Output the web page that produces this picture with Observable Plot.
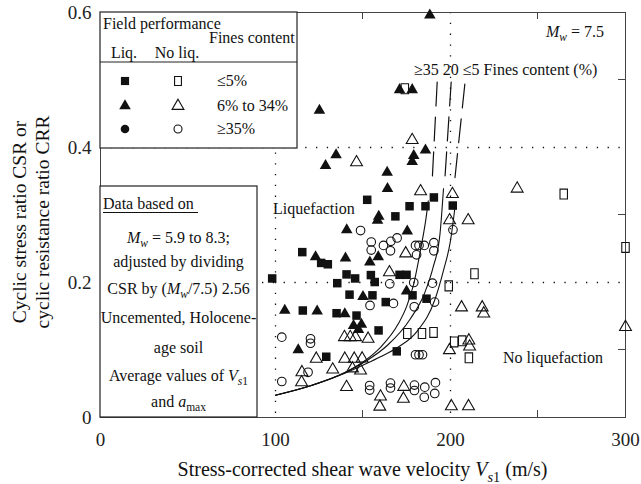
<!DOCTYPE html>
<html>
<head>
<meta charset="utf-8">
<script src="https://cdn.jsdelivr.net/npm/d3@7"></script>
<script src="https://cdn.jsdelivr.net/npm/@observablehq/plot@0.6"></script>
<style>
  html, body { margin: 0; padding: 0; background: #fff; }
  #chart { width: 641px; height: 484px; }
</style>
</head>
<body>
<div id="chart"></div>
<script>
// ---- axis ticks ----
const vs1Ticks = [0, 100, 200, 300];
const crrTicks = [0, 0.2, 0.4, 0.6];
const vs1MinorTicks = [150, 250];
const crrMinorTicks = [0.1, 0.3, 0.5];
const guideVs1 = [100, 200];
const guideCRR = [0.2, 0.4];

// ---- field data [Vs1 (m/s), CSR] ----
const liqSquares = [
  [98.1,0.206],[115.3,0.245],[126.1,0.229],[129.9,0.227],[152.4,0.3225],[176.6,0.313],
  [185.7,0.313],[201.3,0.314],[190.5,0.326],[168.5,0.298],[135.3,0.199],[140.6,0.212],
  [145.5,0.206],[154.5,0.211],[156.7,0.2007],[170.9,0.2114],[174.9,0.2114],[142.3,0.182],
  [155.4,0.181],[163,0.171],[178.3,0.181],[186.3,0.176],[115.6,0.1585],[134.9,0.1545],
  [146.3,0.151],[158.9,0.129],[129,0.090],[169.3,0.098]
];
const liqTriangles = [
  [188.2,0.596],[170.9,0.4855],[178.1,0.4855],[125.1,0.455],[185.7,0.396],[179,0.388],
  [178.1,0.379],[134.6,0.389],[128.6,0.373],[163.8,0.363],[164,0.339],[159,0.298],
  [158.3,0.292],[140.7,0.278],[175.3,0.276],[122.9,0.238],[140,0.236],[153.9,0.230],
  [158.7,0.238],[174.9,0.187],[150,0.179],[105.3,0.1585],[123.8,0.1575],[139.6,0.1536],
  [144.6,0.136],[149.1,0.138],[147.4,0.130],[113,0.100]
];
const liqCircles = [];
const noLiqSquares = [
  [173.9,0.487],[264.7,0.331],[300,0.252],[213.7,0.213],[199,0.195],[175.3,0.1245],
  [183.7,0.1245],[190.3,0.126],[202.1,0.112],[206.7,0.1136],[210.5,0.0884]
];
const noLiqTriangles = [
  [178.1,0.411],[146.3,0.378],[182.9,0.335],[201.1,0.331],[238.1,0.339],[199.5,0.292],
  [210.1,0.292],[174.4,0.243],[165.1,0.215],[206.3,0.163],[218.1,0.163],[219,0.154],
  [300,0.134],[139.4,0.119],[142.7,0.119],[145.7,0.119],[152.9,0.1166],[210.5,0.114],
  [210.9,0.105],[199.4,0.0997],[123.3,0.087],[139.6,0.087],[145,0.087],[149.5,0.0874],
  [144,0.0726],[148.6,0.0696],[132.7,0.071],[115.1,0.067],[114.9,0.052],[140.6,0.045],
  [160,0.031],[159.6,0.016],[173.3,0.0453],[173.1,0.0277],[200.5,0.0166],[210.3,0.0166]
];
const noLiqCircles = [
  [148.6,0.277],[201.4,0.278],[154.7,0.260],[154.7,0.248],[161.7,0.255],[165.9,0.261],
  [169.5,0.266],[165.7,0.247],[180,0.255],[182,0.255],[185,0.255],[190.5,0.259],
  [190.5,0.247],[180.6,0.241],[165.3,0.198],[179,0.2],[189.7,0.199],[190.9,0.171],
  [179.3,0.164],[167.4,0.169],[154,0.166],[103.6,0.119],[120,0.1166],[120,0.110],
  [180,0.093],[182,0.093],[184,0.093],[118.6,0.067],[103.6,0.0533],[153.8,0.0474],
  [153.8,0.0406],[165.7,0.051],[165.7,0.0437],[179.4,0.048],[179.4,0.040],[185.3,0.045],
  [185,0.030],[191.4,0.0516],[191,0.0356]
];

// ---- CRR boundary curves [Vs1, CRR] ----
const curveFC35 = [[100,0.033],[120,0.047],[140,0.067],[152,0.086],[160,0.104],[170,0.138],[175,0.165],[179,0.198],[183,0.250],[186,0.295],[187.3,0.321]];
const curveFC20 = [[100,0.033],[120,0.047],[140,0.067],[152,0.084],[164,0.107],[177,0.146],[185,0.183],[190,0.222],[194,0.272],[196,0.339]];
const curveFC5  = [[100,0.033],[120,0.047],[140,0.066],[152,0.080],[160,0.090],[170,0.104],[181,0.128],[191,0.174],[196,0.218],[200,0.262],[202.5,0.310]];
const dashFC35 = [[192.4,0.497],[189.5,0.349]];
const dashFC20 = [[200.4,0.497],[196.6,0.346]];
const dashFC5  = [[208.2,0.494],[202.3,0.349]];

const INK = "#111";
const FONT = "'Liberation Serif', 'Times New Roman', serif";
const px = d => d[0], py = d => d[1];

// custom tall rectangle used for the open squares
const tallRect = {
  draw(ctx, size) {
    const s = Math.sqrt(size);
    const w = s * 0.42, h = s * 0.56;
    ctx.moveTo(-w, -h); ctx.lineTo(w, -h); ctx.lineTo(w, h); ctx.lineTo(-w, h); ctx.closePath();
  }
};

const chart = Plot.plot({
  width: 641,
  height: 484,
  marginLeft: 100,
  marginRight: 16,
  marginTop: 12,
  marginBottom: 67,
  style: { fontFamily: FONT, fontSize: "19px", color: "#222", background: "#fff", overflow: "visible" },
  x: { domain: [0, 300], ticks: vs1Ticks, tickSize: 0, tickPadding: 15, label: null },
  y: { domain: [0, 0.6], ticks: crrTicks, tickSize: 0, tickPadding: 9, label: null,
       tickFormat: d => d === 0 ? "0" : d3.format(".1f")(d) },
  marks: [
    Plot.ruleX(guideVs1, { stroke: INK, strokeWidth: 1.3, strokeDasharray: "1.3,9.5" }),
    Plot.ruleY(guideCRR, { stroke: INK, strokeWidth: 1.3, strokeDasharray: "1.3,9.5" }),
    Plot.frame({ stroke: "#444", strokeWidth: 1 }),
    Plot.line(curveFC35, { x: px, y: py, curve: "monotone-x", stroke: INK, strokeWidth: 1.1 }),
    Plot.line(curveFC20, { x: px, y: py, curve: "monotone-x", stroke: INK, strokeWidth: 1.1 }),
    Plot.line(curveFC5,  { x: px, y: py, curve: "monotone-x", stroke: INK, strokeWidth: 1.1 }),
    Plot.line(dashFC35, { x: px, y: py, stroke: INK, strokeWidth: 1.2, strokeDasharray: "24,11" }),
    Plot.line(dashFC20, { x: px, y: py, stroke: INK, strokeWidth: 1.2, strokeDasharray: "24,11" }),
    Plot.line(dashFC5,  { x: px, y: py, stroke: INK, strokeWidth: 1.2, strokeDasharray: "24,11" }),
    Plot.dot(noLiqCircles,   { x: px, y: py, symbol: "circle", r: 4.3, fill: "none", stroke: INK, strokeWidth: 1.1 }),
    Plot.dot(noLiqTriangles, { x: px, y: py, symbol: "triangle", r: 4.4, fill: "none", stroke: INK, strokeWidth: 1.1 }),
    Plot.dot(noLiqSquares,   { x: px, y: py, symbol: tallRect, r: 5, fill: "none", stroke: INK, strokeWidth: 1.1 }),
    Plot.dot(liqCircles,     { x: px, y: py, symbol: "circle", r: 4.3, fill: INK }),
    Plot.dot(liqTriangles,   { x: px, y: py, symbol: "triangle", r: 4.3, fill: INK }),
    Plot.dot(liqSquares,     { x: px, y: py, symbol: "square", r: 4.8, fill: INK })
  ]
});
document.getElementById("chart").appendChild(chart);

// ---- annotations ----
const sx = chart.scale("x"), sy = chart.scale("y");
const svg = d3.select(chart);
const g = svg.append("g").attr("font-family", FONT).attr("fill", INK);

// inward minor ticks
const X0 = sx.apply(0), X1 = sx.apply(300), Y0 = sy.apply(0), Y1 = sy.apply(0.6);
for (const v of vs1MinorTicks) {
  g.append("line").attr("x1", sx.apply(v)).attr("x2", sx.apply(v)).attr("y1", Y0).attr("y2", Y0 - 7).attr("stroke", "#444");
  g.append("line").attr("x1", sx.apply(v)).attr("x2", sx.apply(v)).attr("y1", Y1).attr("y2", Y1 + 7).attr("stroke", "#444");
}
for (const v of crrMinorTicks) {
  g.append("line").attr("x1", X1).attr("x2", X1 - 7).attr("y1", sy.apply(v)).attr("y2", sy.apply(v)).attr("stroke", "#444");
}

function rich(parent, x, y, segs, size, anchor = "start", rotate = false) {
  const t = parent.append("text").attr("font-size", size).attr("text-anchor", anchor);
  if (rotate) t.attr("transform", "rotate(-90)").attr("x", -y).attr("y", x);
  else t.attr("x", x).attr("y", y);
  let shift = 0;
  for (const s of segs) {
    const ts = t.append("tspan").text(s.t);
    if (s.i) ts.attr("font-style", "italic");
    const target = s.sub ? size * 0.28 : 0;
    if (target !== shift) { ts.attr("dy", target - shift); shift = target; }
    if (s.sub) ts.attr("font-size", size * 0.72);
  }
  return t;
}

const FS = 16;
// legend box
g.append("rect").attr("x", 100).attr("y", 12).attr("width", 197).attr("height", 136)
  .attr("fill", "#fff").attr("stroke", "#222").attr("stroke-width", 1.2);
g.append("line").attr("x1", 100).attr("x2", 297).attr("y1", 62).attr("y2", 62).attr("stroke", "#222").attr("stroke-width", 1.2);
rich(g, 103, 29, [{ t: "Field performance" }], FS);
rich(g, 209, 43, [{ t: "Fines content" }], FS);
rich(g, 124, 58, [{ t: "Liq." }], FS, "middle");
rich(g, 177, 58, [{ t: "No liq." }], FS, "middle");
const legendRows = [
  { y: 81, label: "≤5%", filled: d3.symbolSquare, fr: 4.6, open: tallRect, or: 4.6 },
  { y: 106, label: "6% to 34%", filled: d3.symbolTriangle, fr: 4.3, open: d3.symbolTriangle, or: 4.4 },
  { y: 129, label: "≥35%", filled: d3.symbolCircle, fr: 4.3, open: d3.symbolCircle, or: 4.0 }
];
for (const row of legendRows) {
  g.append("path").attr("transform", `translate(125,${row.y})`)
    .attr("d", d3.symbol(row.filled, Math.PI * row.fr * row.fr)()).attr("fill", INK);
  g.append("path").attr("transform", `translate(178,${row.y})`)
    .attr("d", d3.symbol(row.open, Math.PI * row.or * row.or)()).attr("fill", "none").attr("stroke", INK).attr("stroke-width", 1.1);
  rich(g, 217, row.y + 5, [{ t: row.label }], FS);
}

// data-description box
g.append("rect").attr("x", 100).attr("y", 186).attr("width", 157).attr("height", 231)
  .attr("fill", "#fff").attr("stroke", "#222").attr("stroke-width", 1.2);
rich(g, 103, 209, [{ t: "Data based on" }], FS);
g.append("line").attr("x1", 103).attr("x2", 198).attr("y1", 212.5).attr("y2", 212.5).attr("stroke", INK).attr("stroke-width", 1);
const cx = 178.5;
rich(g, cx, 243, [{ t: "M", i: 1 }, { t: "w", i: 1, sub: 1 }, { t: " = 5.9 to 8.3;" }], FS, "middle");
rich(g, cx, 267, [{ t: "adjusted by dividing" }], FS, "middle");
rich(g, cx, 294, [{ t: "CSR by (" }, { t: "M", i: 1 }, { t: "w", i: 1, sub: 1 }, { t: "/7.5) 2.56" }], FS, "middle");
rich(g, cx, 323, [{ t: "Uncemented, Holocene-" }], FS, "middle");
rich(g, cx, 353, [{ t: "age soil" }], FS, "middle");
rich(g, cx, 381, [{ t: "Average values of " }, { t: "V", i: 1 }, { t: "s", i: 1, sub: 1 }, { t: "1", sub: 1 }], FS, "middle");
rich(g, cx, 407, [{ t: "and " }, { t: "a", i: 1 }, { t: "max", sub: 1 }], FS, "middle");

// in-plot labels
rich(g, 546, 37, [{ t: "M", i: 1 }, { t: "w", i: 1, sub: 1 }, { t: " = 7.5" }], FS);
rich(g, 414, 75, [{ t: "≥35 20 ≤5 Fines content (%)" }], FS);
rich(g, 273, 214, [{ t: "Liquefaction" }], FS);
rich(g, 503, 363, [{ t: "No liquefaction" }], FS);

// axis titles
rich(g, 362.5, 476, [{ t: "Stress-corrected shear wave velocity " }, { t: "V", i: 1 }, { t: "s", i: 1, sub: 1 }, { t: "1", sub: 1 }, { t: " (m/s)" }], 20, "middle");
rich(g, 26, 222, [{ t: "Cyclic stress ratio CSR or" }], 19.5, "middle", true);
rich(g, 49, 222, [{ t: "cyclic resistance ratio CRR" }], 19.5, "middle", true);
</script>
</body>
</html>
